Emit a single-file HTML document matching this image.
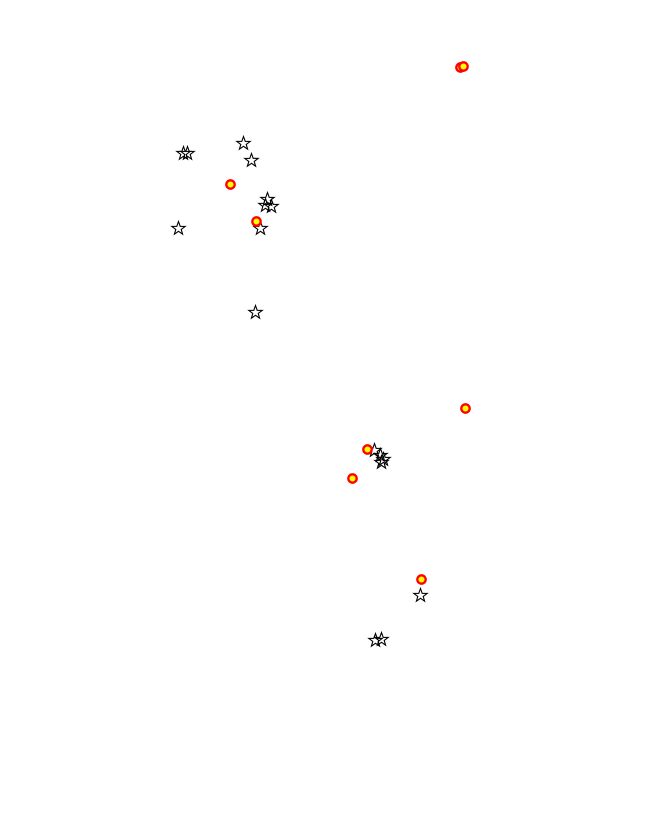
<!DOCTYPE html>
<html><head><style>body{margin:0;background:#fff}svg{display:block}</style></head><body>
<svg width="650" height="815" viewBox="0 0 650 815" xmlns="http://www.w3.org/2000/svg">
<defs>
<path id="s" d="M0,-7 L1.7,-2.2 L6.7,-2.1 L2.7,0.9 L4.1,5.7 L0,2.8 L-4.1,5.7 L-2.7,0.9 L-6.7,-2.1 L-1.7,-2.2 Z" fill="none" stroke="#000" stroke-width="1.1"/>
<g id="c"><circle r="4.2" fill="#ff0" stroke="#f00" stroke-width="2.3"/></g>
</defs>
<g transform="translate(0.5,0.5)">
<use href="#s" x="183" y="153"/><use href="#s" x="187" y="153"/>
<use href="#s" x="243" y="143"/><use href="#s" x="251" y="160"/>
<use href="#s" x="267" y="199"/><use href="#s" x="265" y="205"/><use href="#s" x="271" y="206"/>
<use href="#s" x="178" y="228"/><use href="#s" x="260" y="228"/>
<use href="#s" x="255" y="312"/>
<use href="#s" x="374" y="450"/><use href="#s" x="380" y="455"/><use href="#s" x="383" y="459"/><use href="#s" x="381" y="462"/>
<use href="#s" x="420" y="595"/>
<use href="#s" x="375" y="640"/><use href="#s" x="381" y="639"/>
</g>
<g transform="translate(0.5,0.5)">
<use href="#c" x="460" y="67"/><use href="#c" x="463" y="66"/>
<use href="#c" x="230" y="184"/><use href="#c" x="256" y="221"/>
<use href="#c" x="465" y="408"/><use href="#c" x="367" y="449"/>
<use href="#c" x="352" y="478"/><use href="#c" x="421" y="579"/>
</g>
</svg>
</body></html>
